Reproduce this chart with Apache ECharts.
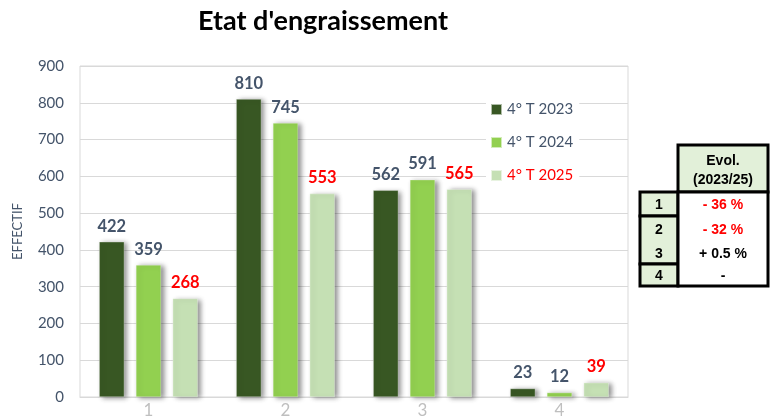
<!DOCTYPE html>
<html>
<head>
<meta charset="utf-8">
<script src="https://cdn.jsdelivr.net/npm/echarts@6/dist/echarts.min.js"></script>
<style>
  html, body { margin: 0; padding: 0; background: #fff; }
  #main { width: 776px; height: 420px; }
</style>
</head>
<body>
<div id="main"></div>
<script>
// categories and values
var categories = ['1', '2', '3', '4'];
var seriesNames = ['4° T 2023', '4° T 2024', '4° T 2025'];
var t2023 = [422, 810, 562, 23];
var t2024 = [359, 745, 591, 12];
var t2025 = [268, 553, 565, 39];

// evolution table
var evolHeader = ['Evol.', '(2023/25)'];
var evolRows = ['1', '2', '3', '4'];
var evolValues = ['- 36 %', '- 32 %', '+ 0.5 %', '-'];
var evolColors = ['#ff0000', '#ff0000', '#000000', '#000000'];

var colors = ['#385723', '#92d050', '#c5e0b4'];
var labelColors = ['#44546a', '#44546a', '#ff0000'];
var tableFill = '#e2f0d9';

var chart = echarts.init(document.getElementById('main'));

function barSeries(i, data) {
    return {
        name: seriesNames[i],
        type: 'bar',
        data: data,
        barGap: '46%',
        barCategoryGap: '28%',
        itemStyle: {
            color: colors[i],
            borderColor: 'rgba(255,255,255,0.6)',
            borderWidth: 0.5,
            shadowColor: 'rgba(0,0,0,0.45)',
            shadowBlur: 5,
            shadowOffsetX: 3,
            shadowOffsetY: 1
        },
        label: {
            show: true,
            position: 'top',
            distance: 7,
            color: labelColors[i],
            fontFamily: 'Lato',
            fontWeight: 'bold',
            fontSize: 16.5
        }
    };
}

// table graphic
var tx = 640, tc = 678, tr = 768;
var rowY = [192, 216, 240, 264, 286];
var lw = 3;
var tfont = 'bold 14px "Liberation Sans"';
var graphics = [
    // header
    { type: 'rect', shape: { x: tc, y: 145, width: tr - tc, height: 47 },
      style: { fill: tableFill, stroke: '#000', lineWidth: lw } },
    { type: 'text', x: (tc + tr) / 2, y: 161,
      style: { text: evolHeader[0], fill: '#000', font: tfont, align: 'center', verticalAlign: 'middle' } },
    { type: 'text', x: (tc + tr) / 2, y: 180,
      style: { text: evolHeader[1], fill: '#000', font: tfont, align: 'center', verticalAlign: 'middle' } },
    // left column cells
    { type: 'rect', shape: { x: tx, y: rowY[0], width: tc - tx, height: rowY[1] - rowY[0] },
      style: { fill: tableFill, stroke: '#000', lineWidth: lw } },
    { type: 'rect', shape: { x: tx, y: rowY[1], width: tc - tx, height: rowY[3] - rowY[1] },
      style: { fill: tableFill, stroke: '#000', lineWidth: lw } },
    { type: 'rect', shape: { x: tx, y: rowY[3], width: tc - tx, height: rowY[4] - rowY[3] },
      style: { fill: tableFill, stroke: '#000', lineWidth: lw } },
    // value column
    { type: 'rect', shape: { x: tc, y: rowY[0], width: tr - tc, height: rowY[4] - rowY[0] },
      style: { fill: '#fff', stroke: '#000', lineWidth: lw } }
];
var textY = [205, 230, 254, 276];
evolRows.forEach(function (r, i) {
    graphics.push({ type: 'text', x: (tx + tc) / 2, y: textY[i],
        style: { text: r, fill: '#000', font: tfont, align: 'center', verticalAlign: 'middle' } });
    graphics.push({ type: 'text', x: (tc + tr) / 2, y: textY[i],
        style: { text: evolValues[i], fill: evolColors[i], font: tfont, align: 'center', verticalAlign: 'middle' } });
});

var option = {
    animation: false,
    backgroundColor: '#fff',
    title: {
        text: "Etat d'engraissement",
        left: 318,
        textAlign: 'center',
        top: 3,
        textStyle: { fontFamily: 'Lato', fontWeight: 'bold', fontSize: 27, color: '#000' }
    },
    legend: {
        orient: 'vertical',
        left: 486,
        top: 98,
        itemWidth: 11,
        itemHeight: 11,
        itemGap: 18,
        icon: 'rect',
        backgroundColor: '#fff',
        padding: [4, 6, 4, 4],
        textStyle: { fontFamily: 'Lato', fontSize: 15, color: '#44546a' },
        data: [
            { name: seriesNames[0] },
            { name: seriesNames[1] },
            { name: seriesNames[2], textStyle: { color: '#ff0000' } }
        ]
    },
    grid: {
        left: 80, right: 148, top: 66, bottom: 23,
        show: true, borderColor: '#d9d9d9', borderWidth: 1
    },
    xAxis: {
        type: 'category',
        data: categories,
        axisTick: { show: false },
        axisLine: { lineStyle: { color: '#d9d9d9' } },
        axisLabel: { color: '#bfbfbf', fontFamily: 'Lato', fontSize: 17, margin: 5 }
    },
    yAxis: {
        type: 'value',
        min: 0, max: 900, interval: 100,
        name: 'EFFECTIF',
        nameLocation: 'middle',
        nameGap: 56,
        nameTextStyle: { color: '#44546a', fontFamily: 'Lato', fontSize: 13 },
        axisLine: { show: false },
        axisTick: { show: false },
        axisLabel: { color: '#44546a', fontFamily: 'Lato', fontSize: 15, margin: 16 },
        splitLine: { lineStyle: { color: '#d9d9d9' } }
    },
    series: [barSeries(0, t2023), barSeries(1, t2024), barSeries(2, t2025)],
    graphic: graphics
};

chart.setOption(option);
</script>
</body>
</html>
